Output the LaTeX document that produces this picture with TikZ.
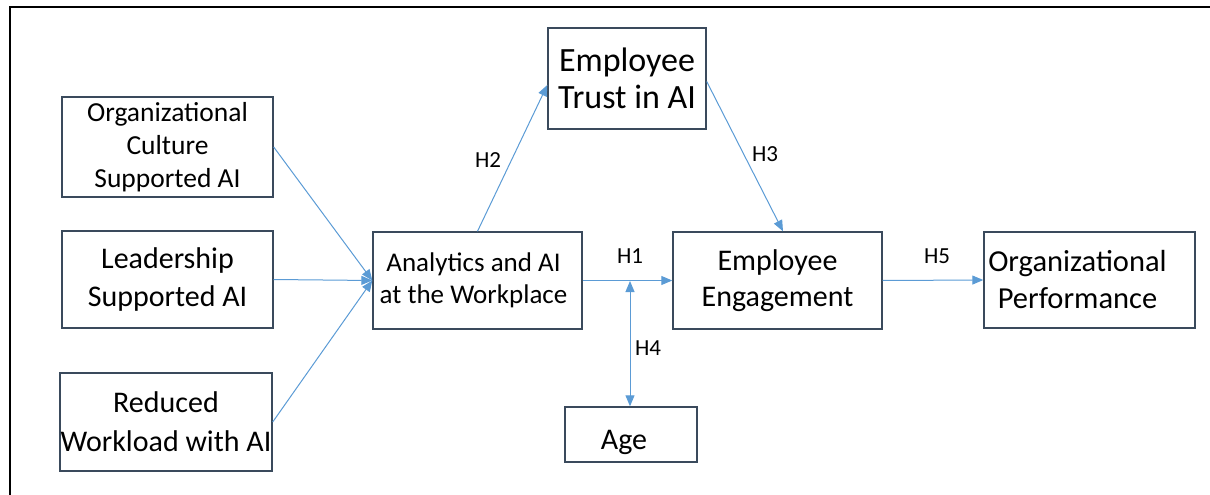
\documentclass[tikz,border=0pt]{standalone}
\usepackage{fontspec}
\setmainfont{Carlito}
\usetikzlibrary{arrows.meta}

\definecolor{boxline}{HTML}{3A4A5C}
\definecolor{arrowblue}{HTML}{5B9BD5}

\begin{document}
\begin{tikzpicture}[
    x=1pt, y=-1pt,
    box/.style={draw=boxline, line width=1.4pt, inner sep=0pt, align=center},
    link/.style={draw=arrowblue, line width=1pt, -{Triangle[length=11pt, width=9pt]}},
    hyp/.style={font=\fontsize{23}{27}\selectfont}
]
    \useasboundingbox (0,0) rectangle (1210,495);

    % Frame
    \draw[line width=2pt] (10,495) -- (10,7) -- (1210,7);

    % Boxes
    \node[box, minimum width=211pt, minimum height=100pt, font=\fontsize{27.5}{33}\selectfont]
        (culture) at (167.5,147) {Organizational\\Culture\\Supported AI};
    \node[box, minimum width=211pt, minimum height=97pt, font=\fontsize{30}{38}\selectfont]
        (leader) at (167.5,279.5) {Leadership\\Supported AI};
    \node[box, minimum width=212pt, minimum height=98pt, font=\fontsize{30}{39}\selectfont]
        (workload) at (166,422) {Reduced\\Workload with AI};
    \node[box, minimum width=209pt, minimum height=97pt, font=\fontsize{27}{32}\selectfont]
        (analytics) at (477.5,280.5) {Analytics and AI\hspace*{8pt}\\at the Workplace\hspace*{8pt}};
    \node[box, minimum width=158pt, minimum height=101pt, font=\fontsize{34}{37}\selectfont]
        (trust) at (627,78.5) {Employee\\Trust in AI};
    \node[box, minimum width=209pt, minimum height=97pt, font=\fontsize{30}{36}\selectfont]
        (engage) at (777.5,280.5) {Employee\\Engagement};
    \node[box, minimum width=211pt, minimum height=96pt, font=\fontsize{30.5}{37}\selectfont]
        (perform) at (1089.5,280) {Organizational\hspace*{24pt}\\Performance\hspace*{24pt}};
    \node[box, minimum width=132pt, minimum height=55pt, font=\fontsize{30}{36}\selectfont,
        text height=35pt, text depth=6pt]
        (age) at (631,434.5) {Age\hspace*{14pt}};

    % Point on the H1 arrow where the age arrow meets it
    \coordinate (meet) at (630,281);

    % Arrows into the workplace box
    \draw[link] (culture.east) -- (analytics.west);
    \draw[link] (leader.east) -- (analytics.west);
    \draw[link] (workload.east) -- (analytics.west);

    % Hypotheses
    \draw[link] (analytics.east) -- (engage.west);
    \draw[link] (analytics.north) -- ([yshift=-6.5pt]trust.west);
    \draw[link] ([yshift=-3pt]trust.east) -- ([xshift=5.5pt]engage.north);
    \draw[link, {Triangle[length=11pt, width=9pt]}-{Triangle[length=11pt, width=9pt]}]
        (age.north -| meet) -- (meet);
    \draw[link] (engage.east) -- (perform.west);

    % Labels
    \node[hyp] (h1) at (630,256) {H1};
    \node[hyp] (h2) at (488,160) {H2};
    \node[hyp] (h3) at (765,154) {H3};
    \node[hyp] (h4) at (648,348) {H4};
    \node[hyp] (h5) at (937,256) {H5};

\end{tikzpicture}
\end{document}
